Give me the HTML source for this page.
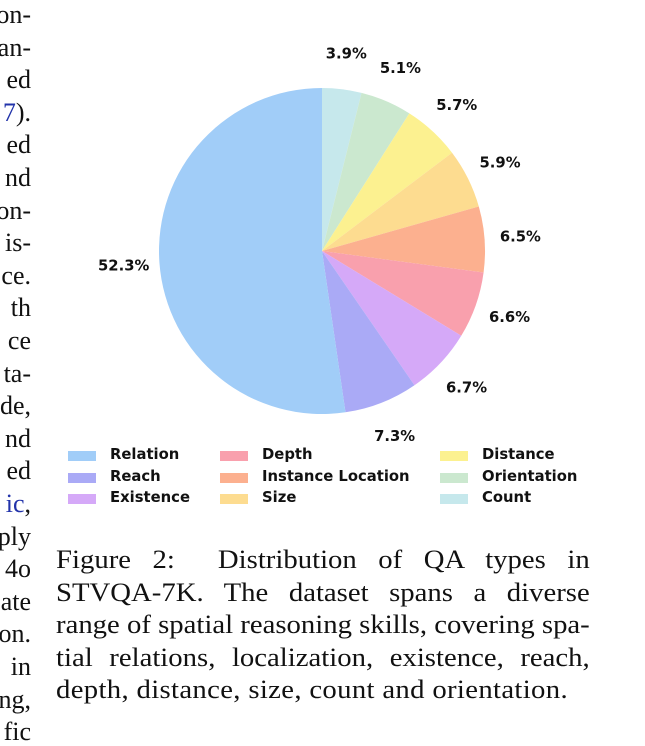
<!DOCTYPE html>
<html><head><meta charset="utf-8"><style>
body{margin:0;width:645px;height:738px;background:#fff;overflow:hidden;position:relative;font-family:"Liberation Serif",serif}
.lt{position:absolute;right:614px;font-size:26px;color:#111;line-height:1;white-space:nowrap}
.cap{position:absolute;left:56px;top:544px;width:483px;font-size:26px;line-height:32.6px;color:#111;transform:scaleX(1.105);transform-origin:0 0}
.cap div{text-align:justify;text-align-last:justify;white-space:nowrap}
.cap div.last{text-align-last:left}
.lg{position:absolute;font:bold 14.8px "DejaVu Sans",sans-serif;color:#111}
.sw{position:absolute;width:28px;height:10px}
</style></head><body>
<div id="left"></div>
<svg id="pie" width="645" height="540" style="position:absolute;left:0;top:0"></svg>
<div id="legend"></div>
<div class="cap">
<div>Figure 2:&nbsp; Distribution of QA types in</div>
<div>STVQA-7K. The dataset spans a diverse</div>
<div>range of spatial reasoning skills, covering spa-</div>
<div>tial relations, localization, existence, reach,</div>
<div class="last" style="letter-spacing:0.3px">depth, distance, size, count and orientation.</div>
</div>
<script>
const categories=["Count","Orientation","Distance","Size","Instance Location","Depth","Existence","Reach","Relation"];
const values=[3.9,5.1,5.7,5.9,6.5,6.6,6.7,7.3,52.3];
const colors=["#c6e8ec","#cbe8cf","#fcf190","#fddc90","#fcb08f","#f9a0ad","#d5a9f8","#aaaaf6","#a1cdf8"];
const legendOrder=["Relation","Reach","Existence","Depth","Instance Location","Size","Distance","Orientation","Count"];
const leftWords=["on-","an-","ed","7).","ed","nd","on-","is-","ce.","th","ce","ta-","de,","nd","ed","ic,","ply","4o","ate","on.","in","ng,","fic"];
const NS="http://www.w3.org/2000/svg";
const svg=document.getElementById('pie');
const cx=322,cy=251,r=163;
const total=values.reduce((a,b)=>a+b,0);
let a0=0;
function pt(a,rr){return [cx+rr*Math.sin(a),cy-rr*Math.cos(a)];}
values.forEach((v,i)=>{
 const a1=a0+v/total*2*Math.PI;
 const p0=pt(a0,r),p1=pt(a1,r);
 const path=document.createElementNS(NS,'path');
 path.setAttribute('d',`M${cx},${cy}L${p0[0]},${p0[1]}A${r},${r} 0 ${(a1-a0)>Math.PI?1:0} 1 ${p1[0]},${p1[1]}Z`);
 path.setAttribute('fill',colors[i]);
 
 
 svg.appendChild(path);
 const am=(a0+a1)/2;
 const lp=pt(am,r*1.22);
 const t=document.createElementNS(NS,'text');
 t.setAttribute('x',lp[0]);t.setAttribute('y',lp[1]+5);
 t.setAttribute('text-anchor','middle');
 t.setAttribute('font-family','DejaVu Sans, sans-serif');
 t.setAttribute('font-weight','bold');t.setAttribute('font-size','14.8');
 t.setAttribute('fill','#111');
 t.textContent=v.toFixed(1)+'%';
 
 
 svg.appendChild(t);
 a0=a1;
});
const lg=document.getElementById('legend');
legendOrder.forEach((c,k)=>{
 const col=Math.floor(k/3),row=k%3;
 const xs=[68,220,440][col],xt=[110,262,482][col];
 const y=450+row*21.7;
 const sw=document.createElement('div');
 sw.className='sw';sw.style.left=xs+'px';sw.style.top=(y+1)+'px';
 sw.style.background=colors[categories.indexOf(c)];
 
 
 lg.appendChild(sw);
 const tx=document.createElement('div');
 tx.className='lg';tx.style.left=xt+'px';tx.style.top=(y-4)+'px';tx.textContent=c;
 
 
 lg.appendChild(tx);
});
const left=document.getElementById('left');
leftWords.forEach((w,i)=>{
 const d=document.createElement('div');
 d.className='lt';d.style.top=(2+i*32.6)+'px';d.textContent=w;
 if(w==="7)."){d.innerHTML='<span style="color:#2233aa">7</span>).';}
 if(w==="ic,"){d.innerHTML='<span style="color:#2233aa">ic</span>,';}
 
 
 left.appendChild(d);
});
</script>
</body></html>
